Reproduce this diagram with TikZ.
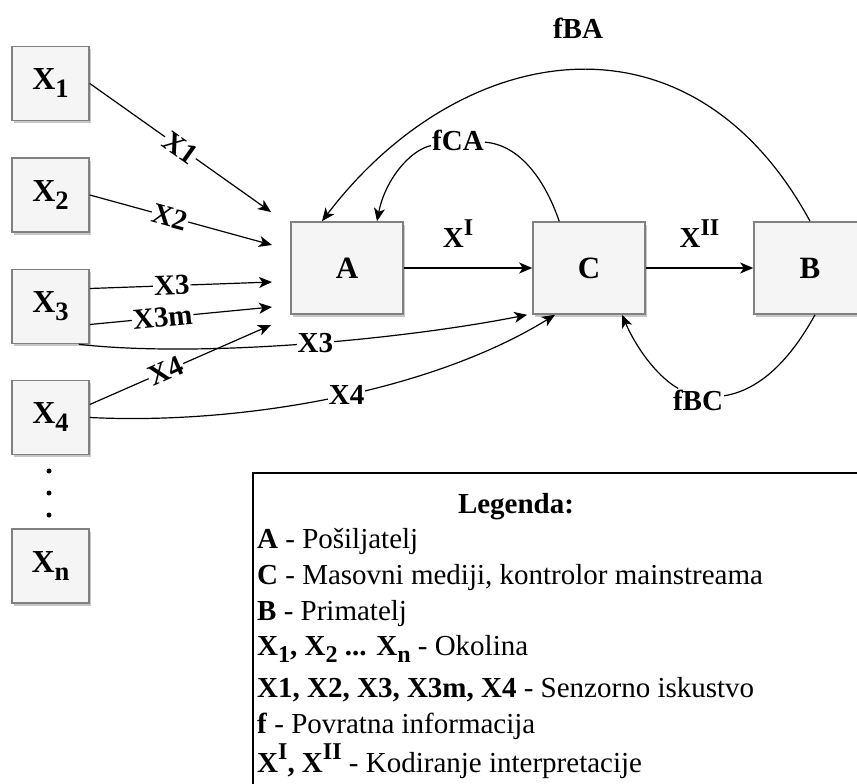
\documentclass[tikz,border=0pt]{standalone}
\usepackage{fontspec}
\setmainfont{Liberation Serif}
\usepackage{graphicx}
\usetikzlibrary{arrows.meta,shadows,calc}
\newcommand\lsb[1]{\raisebox{-0.25em}{\scalebox{0.83}{#1}}}
\newcommand\lsp[1]{\raisebox{0.42em}{\scalebox{0.83}{#1}}}
\begin{document}
\begin{tikzpicture}[x=1pt,y=-1pt,
 box/.style={draw=black!50, line width=1.6pt, fill=black!4,
   drop shadow={shadow xshift=2pt, shadow yshift=-2.5pt, fill=black, opacity=0.22},
   font=\fontsize{31}{35}\selectfont\bfseries, inner sep=0pt},
 xbox/.style={box, minimum width=77pt, minimum height=74pt, font=\fontsize{32}{36}\selectfont\bfseries},
 mbox/.style={box, minimum width=112pt, minimum height=92pt},
 conn/.style={line width=1.2pt, -{Stealth[length=13pt,width=11pt,inset=3.5pt]}},
 plain/.style={line width=1.2pt},
 lbl/.style={font=\fontsize{29}{33}\selectfont\bfseries, fill=white, inner sep=1pt},
 xlbl/.style={font=\fontsize{29}{33}\selectfont\bfseries, inner sep=1pt},
 leg/.style={font=\fontsize{29}{33}\selectfont, anchor=base west, inner sep=0pt},
 dot/.style={circle, fill=black, inner sep=0pt, minimum size=5pt}
]
\useasboundingbox (0,0) rectangle (857,784);
\clip (0,0) rectangle (857,784);

% environment boxes
\node[xbox] (X1) at (50.5,83.5) {X\lsb{1}};
\node[xbox] (X2) at (50.5,195) {X\lsb{2}};
\node[xbox] (X3) at (50.5,306.5) {X\lsb{3}};
\node[xbox] (X4) at (50.5,417.5) {X\lsb{4}};
\node[xbox] (Xn) at (50.5,566) {X\lsb{n}};
\node[dot] (d1) at (49,471) {};
\node[dot] (d2) at (49,493) {};
\node[dot] (d3) at (49,515) {};

% main boxes
\node[mbox] (A) at (347,268) {A};
\node[mbox] (C) at (589,268) {C};
\node[mbox] (B) at (810,268) {B};

% free ends near A
\coordinate (a1) at (271,212);
\coordinate (a2) at (272,245);
\coordinate (a3) at (272,282);
\coordinate (a4) at (272,307);
\coordinate (a5) at (271,325);

\draw[conn] (X1.east) -- node[lbl, sloped, pos=0.5] {X1} (a1);
\draw[conn] (X2.east) -- node[lbl, sloped, pos=0.44] {X2} (a2);
\draw[conn] ($(X3.east)+(0,-18)$) -- node[lbl, sloped, pos=0.45] {X3} (a3);
\draw[conn] ($(X3.east)+(0,18)$) -- node[lbl, sloped, pos=0.4] {X3m} (a4);
\draw[conn] ($(X4.east)+(0,-13)$) -- node[lbl, sloped, pos=0.42] {X4} (a5);

\draw[conn] ($(X3.south east)+(-11,0)$) .. controls (200,358) and (400,340) ..
  node[lbl, pos=0.53] {X3} ($(C.south west)+(-5,0)$);
\draw[conn] (X4.east) .. controls (240,425) and (430,392) ..
  node[lbl, pos=0.53] {X4} ($(C.south)+(-34,0)$);

% main flow
\draw[conn] (A.east) -- node[xlbl, xshift=-10pt, yshift=34pt] {X\lsp{I}} (C.west);
\draw[conn] (C.east) -- node[xlbl, yshift=34pt] {X\lsp{II}} (B.west);

% feedback
\node[xlbl] (fBA) at (578,28) {fBA};
\draw[conn] (B.north) .. controls (690,0) and (460,40) .. ($(A.north)+(-25,0)$);

\node[xlbl] (fCA) at (458,140) {fCA};
\draw[plain] ($(C.north west)+(27,0)$) .. controls (545,180) and (520,145) .. (fCA);
\draw[conn] (fCA) .. controls (410,150) and (385,180) .. ($(A.north)+(30,0)$);

\node[xlbl] (fBC) at (698,400) {fBC};
\draw[plain] ($(B.south)+(5,0)$) .. controls (790,360) and (760,390) .. (fBC);
\draw[conn] (fBC) .. controls (655,375) and (635,345) .. ($(C.south)+(33,0)$);

% legend
\draw[line width=1.2pt] (253,473) rectangle (880,800);
\node[font=\fontsize{29}{33}\selectfont\bfseries, anchor=base, inner sep=0pt] (lg) at (516,513) {Legenda:};
\node[leg] (l1) at (257,548) {\textbf{A} - Pošiljatelj};
\node[leg] (l2) at (257,584) {\textbf{C} - Masovni mediji, kontrolor mainstreama};
\node[leg] (l3) at (257,620) {\textbf{B} - Primatelj};
\node[leg] (l4) at (257,655) {\textbf{X\lsb{1}, X\lsb{2} ... X\lsb{n}} - Okolina};
\node[leg] (l5) at (257,697) {\textbf{X1, X2, X3, X3m, X4} - Senzorno iskustvo};
\node[leg] (l6) at (257,733) {\textbf{f} - Povratna informacija};
\node[leg] (l7) at (257,772) {\textbf{X\lsp{I}, X\lsp{II}} - Kodiranje interpretacije};
\end{tikzpicture}
\end{document}
